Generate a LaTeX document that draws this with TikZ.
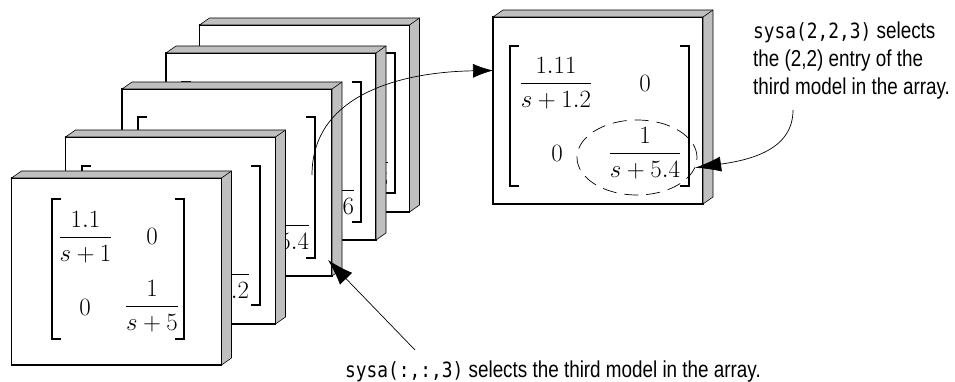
\documentclass[tikz,border=0pt]{standalone}
\usepackage{amsmath}
\usepackage{fontspec}
\usetikzlibrary{arrows.meta,shapes.geometric}
\newfontfamily\capfont[FakeStretch=0.82]{Liberation Sans}
\newfontfamily\codefont[FakeStretch=0.85]{DejaVu Sans Mono}
\newcommand{\code}[1]{{\codefont\fontsize{21}{28}\selectfont #1}}
% gray depth faces of a model box
\newcommand{\slab}[1]{%
  \filldraw[slab] (#1.north west) -- ([shift={(10,-7)}]#1.north west)
    -- ([shift={(10,-7)}]#1.north east) -- ([shift={(10,-7)}]#1.south east)
    -- (#1.south east) -- (#1.north east) -- cycle;
  \draw[slab] (#1.north east) -- ([shift={(10,-7)}]#1.north east);}
% matrix brackets: left, right, top, bottom
\newcommand{\brk}[4]{%
  \draw[bracket] (#1+9,#3) -- (#1,#3) -- (#1,#4) -- (#1+9,#4)
    (#2-9,#3) -- (#2,#3) -- (#2,#4) -- (#2-9,#4);}
\tikzset{
  model/.style={draw, fill=white, line width=1.6pt, minimum width=210pt,
    minimum height=187pt, inner sep=0pt, outer sep=0pt},
  slab/.style={fill=black!25, draw=black, line width=0.6pt},
  entry/.style={inner sep=0pt, font=\fontsize{25}{30}\selectfont},
  bigentry/.style={entry, font=\fontsize{26.5}{31}\selectfont},
  bracket/.style={line width=1.2pt},
  callout/.style={-{Latex[length=20pt,width=14pt]}, line width=0.7pt},
  caption/.style={inner sep=0pt, font=\capfont\fontsize{23}{28}\selectfont, align=left}
}
\begin{document}
\begin{tikzpicture}[x=1pt,y=-1pt]
\useasboundingbox (0,0) rectangle (955,382);

% the stack of models, back to front
\node[model] (m5) at (304.5,118.5) {};
\slab{m5}
\brk{215.5}{395}{53}{193}
\node[entry] (m5e22) at (353,162) {$\dfrac{1}{s+5.8}$};

\node[model] (m4) at (271,146.5) {};
\slab{m4}
\brk{182}{361}{82}{222}
\node[entry] (m4e22) at (319,190) {$\dfrac{1}{s+5.6}$};

\node[model] (m3) at (227,182.5) {};
\slab{m3}
\brk{138}{315}{117}{258}
\node[entry] (m3e11) at (171,158) {$\dfrac{1.11}{s+1.2}$};
\node[entry] (m3e22) at (274,225) {$\dfrac{1}{s+5.4}$};

\node[model] (m2) at (170.5,230.5) {};
\slab{m2}
\brk{82}{260}{166}{305}
\node[entry] (m2e22) at (214,274) {$\dfrac{1}{s+5.2}$};

\node[model] (m1) at (116.5,271.5) {};
\slab{m1}
\brk{52}{184}{199}{339}
\node[entry] (m1e11) at (85.5,237) {$\dfrac{1.1}{s+1}$};
\node[entry] (m1e12) at (152,236) {$0$};
\node[entry] (m1e21) at (85,307) {$0$};
\node[entry] (m1e22) at (152,306) {$\dfrac{1}{s+5}$};

% the third model, picked out
\node[model] (big) at (598,110.5) {};
\slab{big}
\brk{510}{689}{46}{186}
\node[bigentry] (be11) at (556,83) {$\dfrac{1.11}{s+1.2}$};
\node[bigentry] (be12) at (645,83) {$0$};
\node[bigentry] (be21) at (557,153) {$0$};
\node[bigentry] (be22) at (645,153) {$\dfrac{1}{s+5.4}$};
\node[ellipse, draw, dash pattern=on 14pt off 8pt, line width=0.7pt,
  minimum width=120pt, minimum height=75pt, inner sep=0pt] (sel) at (637,157.5) {};

% captions
\node[caption, anchor=base west] (cap1) at (345,377)
  {\code{sysa(:,:,3)} selects the third model in the array.};
\node[caption, anchor=north west] (cap2) at (753,22)
  {\code{sysa(2,2,3)} selects\\the (2,2) entry of the\\third model in the array.};

% arrows
\coordinate (pick) at (312,175);
\coordinate (tail1) at (415,350);
\coordinate (tip1) at (328,260);
\coordinate (tail2) at (793,110);
\draw[callout] (pick) .. controls (312,95) and (400,72) .. ([yshift=40pt]big.west);
\draw[callout, -{Latex[length=26pt,width=17pt]}] (tail1) -- (tip1);
\draw[callout, -{Latex[length=26pt,width=15pt]}] (tail2) .. controls (793,150) and (750,160) .. (sel.-10);
\end{tikzpicture}
\end{document}
